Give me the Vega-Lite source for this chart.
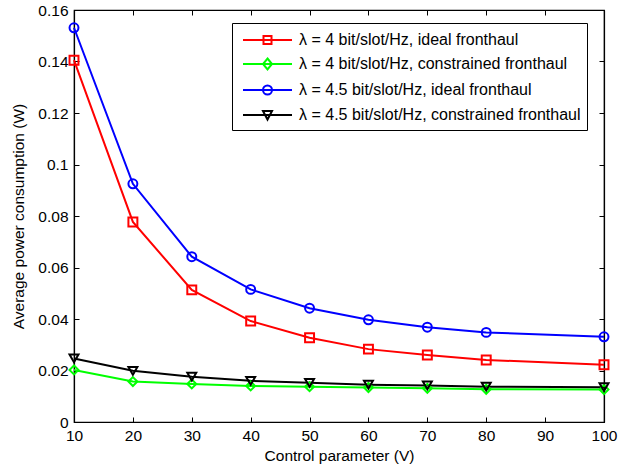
{
  "$schema": "https://vega.github.io/schema/vega-lite/v6.json",
  "width": 530,
  "height": 412,
  "autosize": "none",
  "padding": {"left": 74, "top": 10, "right": 22, "bottom": 48},
  "background": "white",
  "config": {
    "font": "Liberation Sans",
    "view": {"stroke": "black", "strokeWidth": 1.2},
    "axis": {
      "labelFont": "Liberation Sans", "labelFontSize": 15.5, "labelColor": "black", "labelFlush": false,
      "titleFont": "Liberation Sans", "titleFontSize": 15.5, "titleFontWeight": "normal", "titleColor": "black",
      "domainColor": "black", "domainWidth": 1.2, "tickColor": "black", "grid": false, "tickSize": -5, "labelPadding": 11
    }
  },
  "data": {
    "values": [
      {"V": 10, "P": 0.1405, "s": "λ = 4 bit/slot/Hz, ideal fronthaul"},
      {"V": 20, "P": 0.0777, "s": "λ = 4 bit/slot/Hz, ideal fronthaul"},
      {"V": 30, "P": 0.0513, "s": "λ = 4 bit/slot/Hz, ideal fronthaul"},
      {"V": 40, "P": 0.0392, "s": "λ = 4 bit/slot/Hz, ideal fronthaul"},
      {"V": 50, "P": 0.0327, "s": "λ = 4 bit/slot/Hz, ideal fronthaul"},
      {"V": 60, "P": 0.0283, "s": "λ = 4 bit/slot/Hz, ideal fronthaul"},
      {"V": 70, "P": 0.0260, "s": "λ = 4 bit/slot/Hz, ideal fronthaul"},
      {"V": 80, "P": 0.0241, "s": "λ = 4 bit/slot/Hz, ideal fronthaul"},
      {"V": 100, "P": 0.0222, "s": "λ = 4 bit/slot/Hz, ideal fronthaul"},
      {"V": 10, "P": 0.0202, "s": "λ = 4 bit/slot/Hz, constrained fronthaul"},
      {"V": 20, "P": 0.0157, "s": "λ = 4 bit/slot/Hz, constrained fronthaul"},
      {"V": 30, "P": 0.0148, "s": "λ = 4 bit/slot/Hz, constrained fronthaul"},
      {"V": 40, "P": 0.0140, "s": "λ = 4 bit/slot/Hz, constrained fronthaul"},
      {"V": 50, "P": 0.0137, "s": "λ = 4 bit/slot/Hz, constrained fronthaul"},
      {"V": 60, "P": 0.0134, "s": "λ = 4 bit/slot/Hz, constrained fronthaul"},
      {"V": 70, "P": 0.0131, "s": "λ = 4 bit/slot/Hz, constrained fronthaul"},
      {"V": 80, "P": 0.0127, "s": "λ = 4 bit/slot/Hz, constrained fronthaul"},
      {"V": 100, "P": 0.0126, "s": "λ = 4 bit/slot/Hz, constrained fronthaul"},
      {"V": 10, "P": 0.1531, "s": "λ = 4.5 bit/slot/Hz, ideal fronthaul"},
      {"V": 20, "P": 0.0925, "s": "λ = 4.5 bit/slot/Hz, ideal fronthaul"},
      {"V": 30, "P": 0.0642, "s": "λ = 4.5 bit/slot/Hz, ideal fronthaul"},
      {"V": 40, "P": 0.0515, "s": "λ = 4.5 bit/slot/Hz, ideal fronthaul"},
      {"V": 50, "P": 0.0442, "s": "λ = 4.5 bit/slot/Hz, ideal fronthaul"},
      {"V": 60, "P": 0.0397, "s": "λ = 4.5 bit/slot/Hz, ideal fronthaul"},
      {"V": 70, "P": 0.0368, "s": "λ = 4.5 bit/slot/Hz, ideal fronthaul"},
      {"V": 80, "P": 0.0348, "s": "λ = 4.5 bit/slot/Hz, ideal fronthaul"},
      {"V": 100, "P": 0.0331, "s": "λ = 4.5 bit/slot/Hz, ideal fronthaul"},
      {"V": 10, "P": 0.0247, "s": "λ = 4.5 bit/slot/Hz, constrained fronthaul"},
      {"V": 20, "P": 0.0199, "s": "λ = 4.5 bit/slot/Hz, constrained fronthaul"},
      {"V": 30, "P": 0.0176, "s": "λ = 4.5 bit/slot/Hz, constrained fronthaul"},
      {"V": 40, "P": 0.0160, "s": "λ = 4.5 bit/slot/Hz, constrained fronthaul"},
      {"V": 50, "P": 0.0152, "s": "λ = 4.5 bit/slot/Hz, constrained fronthaul"},
      {"V": 60, "P": 0.0145, "s": "λ = 4.5 bit/slot/Hz, constrained fronthaul"},
      {"V": 70, "P": 0.0142, "s": "λ = 4.5 bit/slot/Hz, constrained fronthaul"},
      {"V": 80, "P": 0.0137, "s": "λ = 4.5 bit/slot/Hz, constrained fronthaul"},
      {"V": 100, "P": 0.0135, "s": "λ = 4.5 bit/slot/Hz, constrained fronthaul"}
    ]
  },
  "layer": [
    {
      "mark": {"type": "line", "strokeWidth": 2},
      "encoding": {
        "x": {"field": "V", "type": "quantitative", "scale": {"domain": [10, 100], "nice": false, "zero": false},
              "axis": {"values": [10, 20, 30, 40, 50, 60, 70, 80, 90, 100], "format": "d", "title": "Control parameter (V)", "titlePadding": 5}},
        "y": {"field": "P", "type": "quantitative", "scale": {"domain": [0, 0.16], "nice": false},
              "axis": {"values": [0, 0.02, 0.04, 0.06, 0.08, 0.1, 0.12, 0.14, 0.16], "format": "~g", "title": "Average power consumption (W)", "titlePadding": 11}},
        "color": {"field": "s", "type": "nominal",
                  "scale": {"domain": ["λ = 4 bit/slot/Hz, ideal fronthaul", "λ = 4 bit/slot/Hz, constrained fronthaul", "λ = 4.5 bit/slot/Hz, ideal fronthaul", "λ = 4.5 bit/slot/Hz, constrained fronthaul"],
                            "range": ["#ff0000", "#00ff00", "#0000ff", "#000000"]},
                  "legend": null}
      }
    },
    {
      "mark": {"type": "point", "filled": false, "strokeWidth": 2, "size": 80, "opacity": 1},
      "encoding": {
        "x": {"field": "V", "type": "quantitative", "scale": {"domain": [10, 100], "nice": false, "zero": false},
              "axis": {"orient": "top", "values": [10, 20, 30, 40, 50, 60, 70, 80, 90, 100], "labels": false, "title": null}},
        "y": {"field": "P", "type": "quantitative", "scale": {"domain": [0, 0.16], "nice": false},
              "axis": {"orient": "right", "values": [0, 0.02, 0.04, 0.06, 0.08, 0.1, 0.12, 0.14, 0.16], "labels": false, "title": null}},
        "color": {"field": "s", "type": "nominal",
                  "scale": {"domain": ["λ = 4 bit/slot/Hz, ideal fronthaul", "λ = 4 bit/slot/Hz, constrained fronthaul", "λ = 4.5 bit/slot/Hz, ideal fronthaul", "λ = 4.5 bit/slot/Hz, constrained fronthaul"],
                            "range": ["#ff0000", "#00ff00", "#0000ff", "#000000"]},
                  "legend": null},
        "shape": {"field": "s", "type": "nominal",
                  "scale": {"domain": ["λ = 4 bit/slot/Hz, ideal fronthaul", "λ = 4 bit/slot/Hz, constrained fronthaul", "λ = 4.5 bit/slot/Hz, ideal fronthaul", "λ = 4.5 bit/slot/Hz, constrained fronthaul"],
                            "range": ["square", "diamond", "circle", "triangle-down"]},
                  "legend": null}
      }
    },
    {
      "transform": [{"filter": "datum.V < 0"}],
      "mark": {"type": "point", "filled": false, "strokeWidth": 2, "size": 400, "opacity": 1},
      "encoding": {
        "x": {"field": "V", "type": "quantitative", "scale": {"domain": [10, 100], "nice": false, "zero": false}, "axis": null},
        "y": {"field": "P", "type": "quantitative", "scale": {"domain": [0, 0.16], "nice": false}, "axis": null},
        "color": {"field": "s", "type": "nominal",
                  "scale": {"domain": ["λ = 4 bit/slot/Hz, ideal fronthaul", "λ = 4 bit/slot/Hz, constrained fronthaul", "λ = 4.5 bit/slot/Hz, ideal fronthaul", "λ = 4.5 bit/slot/Hz, constrained fronthaul"],
                            "range": ["#ff0000", "#00ff00", "#0000ff", "#000000"]},
                  "legend": {"title": null, "orient": "none", "legendX": 158, "legendY": 13,
                             "labelFont": "Liberation Sans", "labelFontSize": 16, "labelColor": "black", "labelLimit": 400,
                             "strokeColor": "black", "fillColor": "white", "padding": 6, "rowPadding": 5,
                             "symbolSize": 400, "symbolStrokeWidth": 2, "labelOffset": 39, "cornerRadius": 0}},
        "shape": {"field": "s", "type": "nominal",
                  "scale": {"domain": ["λ = 4 bit/slot/Hz, ideal fronthaul", "λ = 4 bit/slot/Hz, constrained fronthaul", "λ = 4.5 bit/slot/Hz, ideal fronthaul", "λ = 4.5 bit/slot/Hz, constrained fronthaul"],
                            "range": ["M-0.6,0L4.3,0M1.45,-0.4L2.25,-0.4L2.25,0.4L1.45,0.4Z", "M-0.6,0L4.3,0M1.85,-0.55L2.3,0L1.85,0.55L1.4,0Z", "M-0.6,0L4.3,0M1.4,0A0.45,0.45,0,1,0,2.3,0A0.45,0.45,0,1,0,1.4,0Z", "M-0.6,0L4.3,0M1.4,-0.4L2.3,-0.4L1.85,0.45Z"]},
                  "legend": {"title": null, "orient": "none", "legendX": 158, "legendY": 13,
                             "labelFont": "Liberation Sans", "labelFontSize": 16, "labelColor": "black", "labelLimit": 400,
                             "strokeColor": "black", "fillColor": "white", "padding": 6, "rowPadding": 5,
                             "symbolSize": 400, "symbolStrokeWidth": 2, "labelOffset": 39, "cornerRadius": 0}}
      }
    }
  ],
  "resolve": {"axis": {"x": "independent", "y": "independent"}, "scale": {"shape": "independent", "color": "independent"}}
}
